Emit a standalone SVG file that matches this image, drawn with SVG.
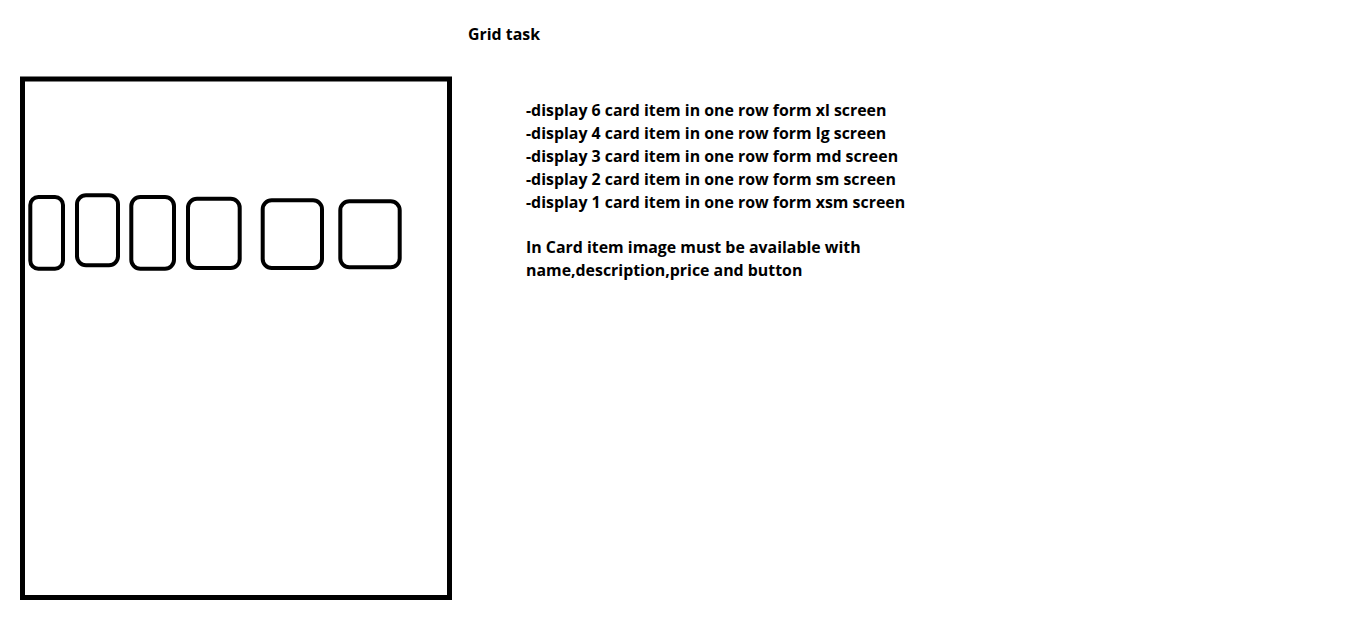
<svg xmlns="http://www.w3.org/2000/svg" width="1362" height="638" viewBox="0 0 1362 638">
<style>
.t{font-family:"Open Sans","Liberation Sans",sans-serif;font-weight:bold;font-size:15.9px;fill:#000}
.b{fill:none;stroke:#000;stroke-width:5}
.c{fill:none;stroke:#000;stroke-width:4}
</style>
<rect width="1362" height="638" fill="#fff"/>
<g id="frame"><rect class="b" x="22.5" y="79" width="427" height="518.5"/></g>
<g id="cards">
<rect id="card1" class="c" x="30.3" y="197" width="32.7" height="71.7" rx="8"/>
<rect id="card2" class="c" x="77" y="195.3" width="41" height="70" rx="9"/>
<rect id="card3" class="c" x="131.3" y="197" width="42.7" height="71.7" rx="9"/>
<rect id="card4" class="c" x="188" y="198.7" width="51.7" height="69.3" rx="9"/>
<rect id="card5" class="c" x="262.7" y="200.3" width="59.3" height="67.7" rx="9"/>
<rect id="card6" class="c" x="340.3" y="201.3" width="59.4" height="66" rx="9"/>
</g>
<g id="title"><text class="t" x="468" y="40">Grid task</text></g>
<g id="notes">
<text class="t" x="526" y="116">-display 6 card item in one row form xl screen</text>
<text class="t" x="526" y="139">-display 4 card item in one row form lg screen</text>
<text class="t" x="526" y="162">-display 3 card item in one row form md screen</text>
<text class="t" x="526" y="185">-display 2 card item in one row form sm screen</text>
<text class="t" x="526" y="208">-display 1 card item in one row form xsm screen</text>
<text class="t" x="526" y="253">In Card item image must be available with</text>
<text class="t" x="526" y="276">name,description,price and button</text>
</g>
</svg>
